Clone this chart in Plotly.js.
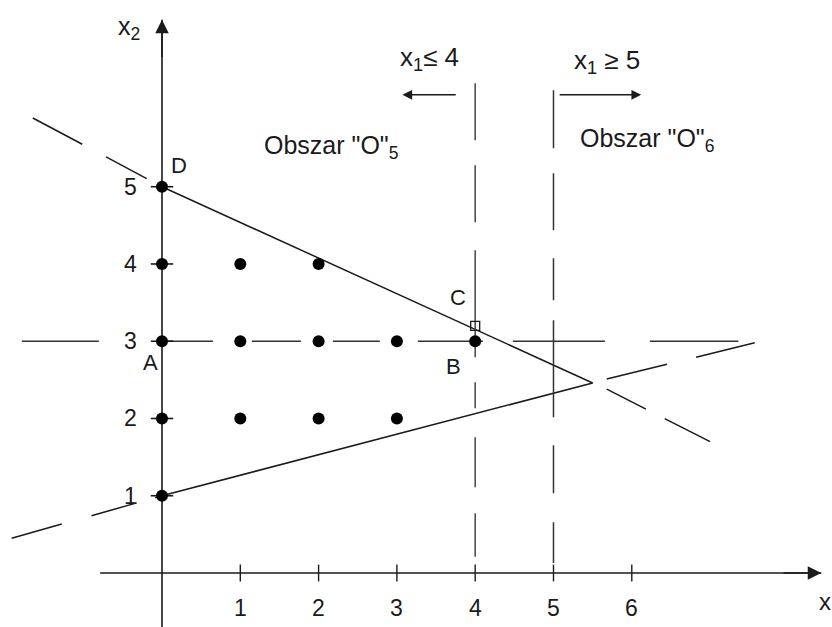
<!DOCTYPE html>
<html>
<head>
<meta charset="utf-8">
<script src="https://cdn.plot.ly/plotly-3.0.1.min.js"></script>
<style>html,body{margin:0;padding:0;background:#fff;}#chart{width:832px;height:627px;}</style>
</head>
<body>
<div id="chart"></div>
<script>
// ---- data ----
const xTicks = [1, 2, 3, 4, 5, 6];
const yTicks = [1, 2, 3, 4, 5];
const latticeX = [0, 0, 0, 0, 0, 1, 1, 1, 2, 2, 2, 3, 3, 4];
const latticeY = [1, 2, 3, 4, 5, 2, 3, 4, 2, 3, 4, 2, 3, 3];
const pointCX = [4], pointCY = [3.2];
// constraint lines: solid part and dashed extensions
const upperSolidX = [0, 5.5], upperSolidY = [5, 2.46];
const upperLeftX = [-1.65, 0], upperLeftY = [5.89, 5];
const upperRightX = [5.68, 7.0], upperRightY = [2.38, 1.70];
const lowerSolidX = [0, 5.5], lowerSolidY = [1, 2.46];
const lowerLeftX = [-1.92, 0], lowerLeftY = [0.45, 1];
const lowerRightX = [5.68, 7.57], lowerRightY = [2.51, 2.98];
// branching cuts
const cutX2 = 3, cutX2Range = [-1.79, 7.36];
const cutX1a = 4, cutX1aRange = [6.34, 0.21];
const cutX1b = 5, cutX1bRange = [6.25, 0.13];
// axes
const xAxisRange = [-0.79, 8.42];
const yAxisRange = [-0.75, 7.16];
const pointLabels = ['D', 'C', 'B', 'A'];
const pointLabelX = [0.22, 3.78, 3.72, -0.15];
const pointLabelY = [5.27, 3.57, 2.67, 2.72];

const FONT = 'Liberation Sans, Arial, Helvetica, sans-serif';
const INK = '#1a1a1a';

function line(x, y, dash, color, width) {
  return {x: x, y: y, mode: 'lines', type: 'scatter', hoverinfo: 'skip',
    line: {color: color || INK, width: width || 1.5, dash: dash || 'solid'}};
}

const traces = [
  // axes
  line(xAxisRange, [0, 0], 'solid', INK, 1.6),
  line([0, 0], yAxisRange, 'solid', INK, 1.6),
  // constraint lines
  line(upperSolidX, upperSolidY),
  line(upperLeftX, upperLeftY, '56px,27px,46px,16px,300px'),
  line(upperRightX, upperRightY, '44px,21px,60px'),
  line(lowerSolidX, lowerSolidY),
  line(lowerLeftX, lowerLeftY, '52px,31px,47px,19px,300px'),
  line(lowerRightX, lowerRightY, '62px,30px,70px'),
  // branching cuts
  line(cutX2Range, [cutX2, cutX2], '77px,63px,51px,39px,49px,32px,47px,38px,65px,30px,92px,45px,100px', '#333'),
  line([cutX1a, cutX1a], cutX1aRange, '57px,25px,57px,28px,107px,25px,26px,29px,50px,26px,60px', '#444'),
  line([cutX1b, cutX1b], cutX1bRange, '58px,25px,57px,28px,42px,20px,97px,28px,48px,29px,60px', '#333'),
  // ticks
  {x: xTicks, y: xTicks.map(() => 0), mode: 'markers', type: 'scatter', hoverinfo: 'skip',
   marker: {symbol: 'line-ns', size: 12, line: {color: INK, width: 1.4}}},
  {x: yTicks.map(() => 0), y: yTicks, mode: 'markers', type: 'scatter', hoverinfo: 'skip',
   marker: {symbol: 'line-ew', size: 16, line: {color: INK, width: 1.6}}},
  // lattice points
  {x: latticeX, y: latticeY, mode: 'markers', type: 'scatter', hoverinfo: 'skip',
   marker: {symbol: 'circle', size: 12, color: '#000'}},
  {x: pointCX, y: pointCY, mode: 'markers', type: 'scatter', hoverinfo: 'skip',
   marker: {symbol: 'square-open', size: 9, color: INK, line: {width: 1.3}}}
];

const annotations = [];
function txt(text, x, y, size, extra) {
  annotations.push(Object.assign({text: text, x: x, y: y, xref: 'x', yref: 'y', showarrow: false,
    font: {family: FONT, size: size, color: INK}}, extra || {}));
}
function arrow(x, y, ax, ay, size) {
  annotations.push({x: x, y: y, ax: ax, ay: ay, xref: 'x', yref: 'y', axref: 'x', ayref: 'y',
    text: '', showarrow: true, arrowhead: 2, arrowsize: size || 1.6, arrowwidth: 1.5, arrowcolor: INK});
}
// axis arrows
arrow(xAxisRange[1], 0, xAxisRange[1] - 0.5, 0, 1.8);
arrow(0, yAxisRange[1], 0, yAxisRange[1] - 0.5, 1.8);
// tick labels
xTicks.forEach(v => txt(String(v), v, 0, 23, {yshift: -35}));
yTicks.forEach(v => txt(String(v), 0, v, 23, {xshift: -32}));
// axis titles
txt('x<sub>2</sub>', -0.42, 7.05, 25);
txt('x', 8.47, -0.375, 24);
// point labels
pointLabels.forEach((t, i) => txt(t, pointLabelX[i], pointLabelY[i], 22));
// region arrows
arrow(3.07, 6.19, 3.77, 6.19, 1.3);
arrow(6.12, 6.19, 5.06, 6.19, 1.3);
txt('x<sub>1</sub>≤ 4', 3.42, 6.66, 26);
txt('x<sub>1</sub> ≥ 5', 5.68, 6.62, 26);
txt('Obszar "O"<sub>5</sub>', 2.16, 5.51, 25);
txt('Obszar "O"<sub>6</sub>', 6.19, 5.60, 25);

const layout = {
  width: 832, height: 627,
  margin: {l: 0, r: 0, t: 0, b: 0},
  paper_bgcolor: '#fff', plot_bgcolor: '#fff',
  showlegend: false,
  xaxis: {range: [-2.069, 8.557], visible: false, fixedrange: true},
  yaxis: {range: [-0.699, 7.417], visible: false, fixedrange: true},
  annotations: annotations
};

Plotly.newPlot('chart', traces, layout, {staticPlot: true, displayModeBar: false});
</script>
</body>
</html>
